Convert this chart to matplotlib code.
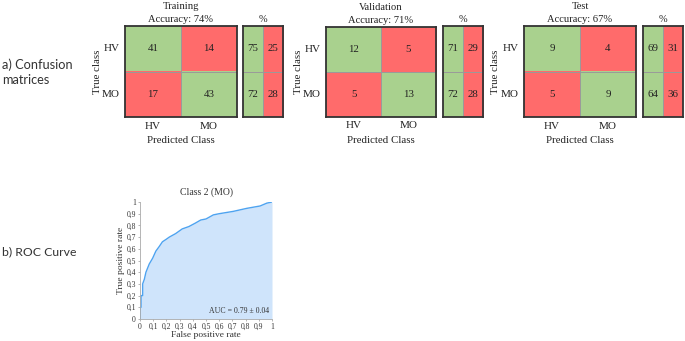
import numpy as np
import matplotlib
matplotlib.use('Agg')
import matplotlib.pyplot as plt
from matplotlib.colors import ListedColormap

# Confusion matrix data
classes = ['HV', 'MO']
sets = ['Training', 'Validation', 'Test']
accuracy = [74, 71, 67]
counts_training = [[41, 14], [17, 43]]
counts_validation = [[12, 5], [5, 13]]
counts_test = [[9, 4], [5, 9]]
pct_training = [[75, 25], [72, 28]]
pct_validation = [[71, 29], [72, 28]]
pct_test = [[69, 31], [64, 36]]

# ROC curve (class 2, MO)
fpr = [0, 0, 0.008, 0.008, 0.02, 0.02, 0.033, 0.045, 0.07, 0.096, 0.12, 0.146,
       0.17, 0.197, 0.222, 0.27, 0.32, 0.37, 0.42, 0.46, 0.50, 0.556, 0.60,
       0.707, 0.81, 0.91, 0.96, 1.0]
tpr = [0, 0.10, 0.10, 0.20, 0.20, 0.30, 0.34, 0.40, 0.47, 0.52, 0.58, 0.62,
       0.66, 0.68, 0.70, 0.73, 0.77, 0.79, 0.82, 0.846, 0.855, 0.89, 0.90,
       0.92, 0.946, 0.966, 0.99, 1.0]
roc_ticks = [0, 0.1, 0.2, 0.3, 0.4, 0.5, 0.6, 0.7, 0.8, 0.9, 1]
roc_ticklabels = ['0', '0,1', '0,2', '0,3', '0,4', '0,5', '0,6', '0,7', '0,8', '0,9', '1']

green = '#a9d18e'
red = '#ff6b6b'
serif = 'Liberation Serif'
ink = '#222222'
W, H = 685, 341

fig = plt.figure(figsize=(6.85, 3.41), dpi=100)


def box(l, t, r, b):
    return [l / W, 1 - b / H, (r - l) / W, (b - t) / H]


def style_border(ax):
    for s in ax.spines.values():
        s.set_color('#333333')
        s.set_linewidth(1.3)
    ax.set_xticks([])
    ax.set_yticks([])


counts = [counts_training, counts_validation, counts_test]
pcts = [pct_training, pct_validation, pct_test]
mat_boxes = [(125, 26, 237, 117), (326, 27, 436, 117), (524, 26, 636, 117)]
pct_boxes = [(243, 26, 283, 117), (443, 26, 483, 117), (643, 26, 683, 117)]
cmap = ListedColormap([red, green])

for i in range(3):
    ax = fig.add_axes(box(*mat_boxes[i]))
    m = np.array(counts[i])
    correct = np.eye(2)
    ax.imshow(correct, cmap=cmap, vmin=0, vmax=1, aspect='auto')
    for r in range(2):
        for c in range(2):
            ax.text(c, r, str(m[r, c]), ha='center', va='center',
                    fontsize=7.8, family=serif, color=ink)
    ax.axhline(0.5, color='#9a9a9a', lw=0.7)
    ax.axvline(0.5, color='#9a9a9a', lw=0.7)
    style_border(ax)
    ax.text(0.5, 1.215, sets[i], transform=ax.transAxes, ha='center', va='center',
            fontsize=7.6, family=serif, color=ink)
    ax.text(0.5, 1.075, 'Accuracy: %d%%' % accuracy[i], transform=ax.transAxes,
            ha='center', va='center', fontsize=7.6, family=serif, color=ink)
    for k, lab in enumerate(classes):
        ax.text(-0.6, k, lab, ha='right', va='center', fontsize=8,
                family=serif, color=ink)
        ax.text(k, 1.7, lab, ha='center', va='center', fontsize=8,
                family=serif, color=ink)
    ax.text(-1.0, 0.5, 'True class', rotation=90, ha='center', va='center',
            fontsize=7.8, family=serif, color=ink)
    ax.text(0.5, 2.02, 'Predicted Class', ha='center', va='center',
            fontsize=7.8, family=serif, color=ink)

    axp = fig.add_axes(box(*pct_boxes[i]))
    p = np.array(pcts[i])
    axp.imshow(np.array([[1, 0], [1, 0]]), cmap=cmap, vmin=0, vmax=1, aspect='auto')
    for r in range(2):
        for c in range(2):
            axp.text(c, r, str(p[r, c]), ha='center', va='center',
                     fontsize=7.8, family=serif, color=ink)
    axp.axhline(0.5, color='#9a9a9a', lw=0.7)
    axp.axvline(0.5, color='#9a9a9a', lw=0.7)
    style_border(axp)
    axp.text(0.5, 1.07, '%', transform=axp.transAxes, ha='center', va='center',
             fontsize=7.5, family=serif, color=ink)

# ROC curve
axr = fig.add_axes(box(140, 202, 272, 319))
axr.fill_between(fpr, tpr, 0, color='#cfe4fb', lw=0)
axr.plot(fpr, tpr, color='#4ea3f0', lw=1.0)
axr.set_xlim(0, 1)
axr.set_ylim(0, 1)
axr.set_xticks(roc_ticks)
axr.set_xticklabels(roc_ticklabels)
axr.set_yticks(roc_ticks)
axr.set_yticklabels(roc_ticklabels)
axr.tick_params(labelsize=5.5, length=1.5, width=0.5, color='#999999',
                pad=1.5, labelcolor='#333333')
for lbl in axr.get_xticklabels() + axr.get_yticklabels():
    lbl.set_family(serif)
for s in ['top', 'right']:
    axr.spines[s].set_visible(False)
for s in ['left', 'bottom']:
    axr.spines[s].set_color('#aaaaaa')
    axr.spines[s].set_linewidth(0.6)
axr.set_title('Class 2 (MO)', fontsize=7, family=serif, color='#333333', pad=5)
axr.set_xlabel('False positive rate', fontsize=6.8, family=serif, color='#333333', labelpad=0)
axr.set_ylabel('True positive rate', fontsize=6.8, family=serif, color='#333333', labelpad=1)
axr.text(0.98, 0.03, 'AUC = 0.79 \u00b1 0.04', ha='right', va='bottom',
         fontsize=5.6, family=serif, color='#333333', transform=axr.transAxes)

# Panel labels
fig.text(2 / W, 1 - 72 / H, 'a) Confusion\nmatrices', ha='left', va='center',
         fontsize=9.2, family='Lato', color='#333333', linespacing=1.3)
fig.text(2 / W, 1 - 252 / H, 'b) ROC Curve', ha='left', va='center',
         fontsize=8.8, family='Lato', color='#333333')

fig.savefig('out.png', dpi=100, facecolor='white')
